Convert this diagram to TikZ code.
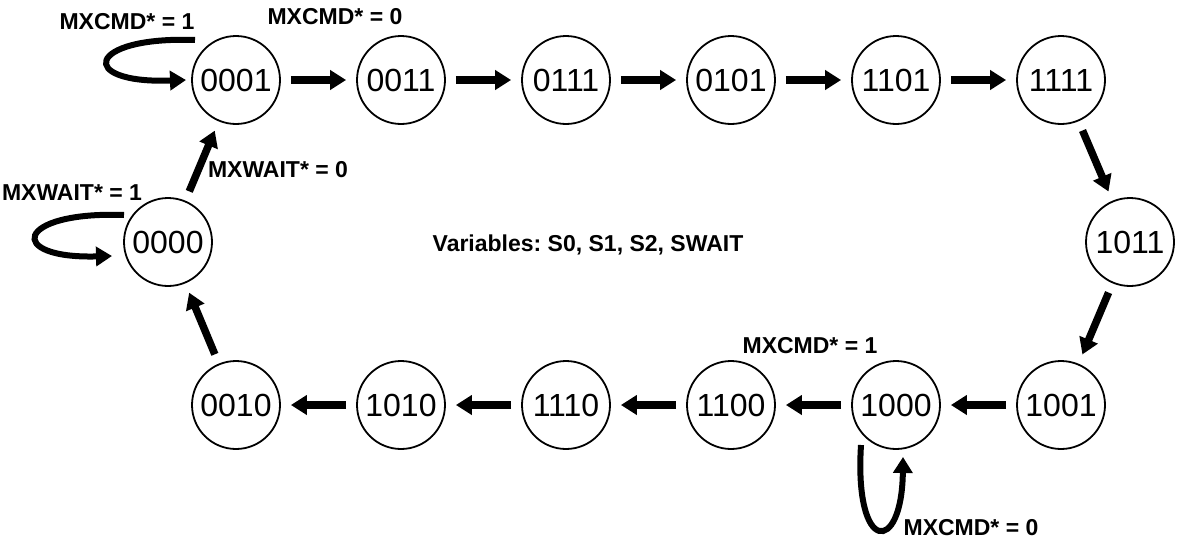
\documentclass[tikz,border=0pt]{standalone}
\usepackage{fontspec}
\setmainfont{Liberation Sans}
\usetikzlibrary{arrows.meta,calc}
\frenchspacing
\begin{document}
\begin{tikzpicture}[x=1pt,y=-1pt,
  state/.style={draw, line width=1.8pt, circle, minimum size=88pt, inner sep=0pt, font=\fontsize{32}{32}\selectfont},
  lbl/.style={font=\bfseries\fontsize{23}{23}\selectfont, inner sep=0pt},
  tr/.style={line width=7.5pt, -{Triangle[length=16pt,width=19pt]}, shorten <=10pt, shorten >=10pt},
  lp/.style={line width=6pt, -{Triangle[length=16pt,width=19pt]}}]
\useasboundingbox (0,0) rectangle (1183,546);
% states
\node[state] (n0001) at (236,80) {0001};
\node[state] (n0011) at (401,80) {0011};
\node[state] (n0111) at (566,80) {0111};
\node[state] (n0101) at (731,80) {0101};
\node[state] (n1101) at (896,80) {1101};
\node[state] (n1111) at (1061,80) {1111};
\node[state] (n0000) at (168,242) {0000};
\node[state] (n1011) at (1130,242) {1011};
\node[state] (n0010) at (236,405) {0010};
\node[state] (n1010) at (401,405) {1010};
\node[state] (n1110) at (566,405) {1110};
\node[state] (n1100) at (731,405) {1100};
\node[state] (n1000) at (896,405) {1000};
\node[state] (n1001) at (1061,405) {1001};
% transitions
\draw[tr] (n0001) -- (n0011);
\draw[tr] (n0011) -- (n0111);
\draw[tr] (n0111) -- (n0101);
\draw[tr] (n0101) -- (n1101);
\draw[tr] (n1101) -- (n1111);
\draw[tr] (n1111) -- (n1011);
\draw[tr] (n1011) -- (n1001);
\draw[tr] (n1001) -- (n1000);
\draw[tr] (n1000) -- (n1100);
\draw[tr] (n1100) -- (n1110);
\draw[tr] (n1110) -- (n1010);
\draw[tr] (n1010) -- (n0010);
\draw[tr] (n0010) -- (n0000);
\draw[tr] (n0000) -- (n0001);
% self loops
\draw[lp] ($(n0001)+(-41,-40)$) .. controls ($(n0001)+(-150,-44)$) and ($(n0001)+(-160,4)$) .. ($(n0001)+(-50,0)$);
\draw[lp] ($(n0000)+(-44,-27)$) .. controls ($(n0000)+(-153,-31)$) and ($(n0000)+(-163,17)$) .. ($(n0000)+(-56,14)$);
\draw[lp] ($(n1000)+(-35,40)$) .. controls ($(n1000)+(-42,150)$) and ($(n1000)+(6,150)$) .. ($(n1000)+(7,52)$);
% labels
\node[lbl] (l1) at (127,22) {MXCMD* = 1};
\node[lbl] (l2) at (335,17) {MXCMD* = 0};
\node[lbl] (l3) at (278,170) {MXWAIT* = 0};
\node[lbl] (l4) at (72,193) {MXWAIT* = 1};
\node[lbl] (l5) at (810,346) {MXCMD* = 1};
\node[lbl] (l6) at (971,528) {MXCMD* = 0};
\node[lbl] (vars) at (588,245) {Variables: S0, S1, S2, SWAIT};
\end{tikzpicture}
\end{document}
